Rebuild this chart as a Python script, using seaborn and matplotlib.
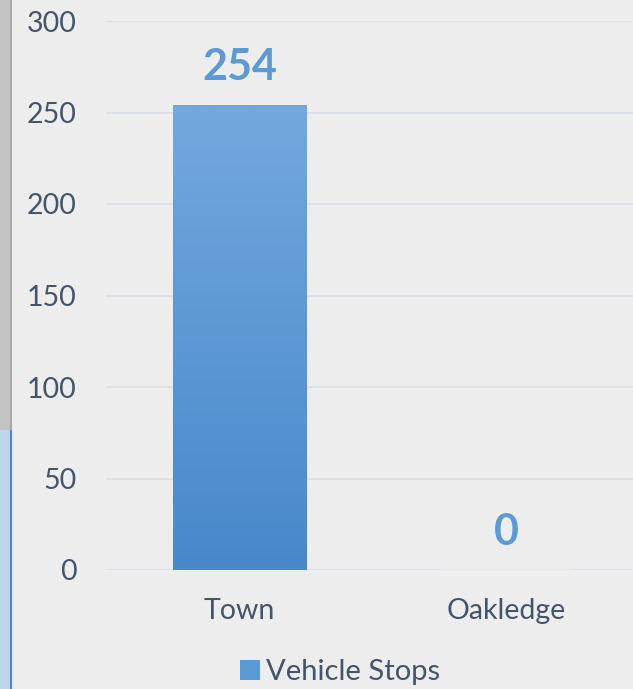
import numpy as np
import pandas as pd
import matplotlib
matplotlib.use("Agg")
import matplotlib.pyplot as plt
from matplotlib.patches import Rectangle
from matplotlib.colors import LinearSegmentedColormap
import seaborn as sns

categories = ["Town", "Oakledge"]
vehicle_stops = [254, 0]
y_ticks = [0, 50, 100, 150, 200, 250, 300]
series_name = "Vehicle Stops"

BG = "#ededed"
TEXT = "#44546a"
LABEL = "#5b9bd5"
GRID = "#dadee5"

sns.set_theme(style="white")
plt.rcParams["font.family"] = ["Lato", "DejaVu Sans"]

W, H = 633, 689
fig = plt.figure(figsize=(W / 100, H / 100), dpi=100, facecolor=BG)
ax = fig.add_axes([106 / W, 1 - 570 / H, (639.5 - 106) / W, (570 - 21) / H])
ax.set_facecolor(BG)

df = pd.DataFrame({"category": categories, "value": vehicle_stops})
sns.barplot(data=df, x="category", y="value", ax=ax, width=0.5,
            color="#5b9bd5", saturation=1, zorder=3)

ax.set_ylim(0, 300)
ax.set_yticks(y_ticks)
ax.set_xlim(-0.5, 1.5)
ax.grid(axis="y", color=GRID, linewidth=1.2, zorder=0)
ax.set_axisbelow(True)
for s in ax.spines.values():
    s.set_visible(False)
ax.tick_params(axis="y", length=0, pad=21, labelsize=20.5, labelcolor=TEXT)
ax.tick_params(axis="x", length=0, pad=20, labelsize=20.5, labelcolor=TEXT)
ax.set_xlabel("")
ax.set_ylabel("")

# vertical gradient fill on each bar
cmap = LinearSegmentedColormap.from_list("barfill", ["#4888ca", "#72a8de"])
grad = np.linspace(0, 1, 256).reshape(-1, 1)
for bar in ax.patches:
    h = bar.get_height()
    if h <= 0:
        continue
    x0 = bar.get_x()
    w = bar.get_width()
    bar.set_facecolor("none")
    bar.set_edgecolor("none")
    im = ax.imshow(grad, cmap=cmap, origin="lower", aspect="auto",
                   extent=[x0, x0 + w, 0, h], zorder=3)
    im.set_clip_path(bar)

# value labels
for i, v in enumerate(vehicle_stops):
    ax.annotate(f"{v}", xy=(i, v), xytext=(0, 13), textcoords="offset points",
                ha="center", va="bottom", fontsize=31, fontweight="bold",
                color=LABEL, zorder=5)

# legend
handle = Rectangle((0, 0), 1, 1, facecolor="#5b9bd5", edgecolor="none")
fig.legend([handle], [series_name], loc="center", bbox_to_anchor=(340 / W, 1 - 672 / H),
           frameon=False, fontsize=21, handlelength=0.7, handleheight=0.7,
           handletextpad=0.2, labelcolor=TEXT)

# window edge strip on the left
fig.patches.append(Rectangle((0, 1 - 430 / H), 10 / W, 430 / H, transform=fig.transFigure,
                             facecolor="#c3c3c3", edgecolor="none", zorder=10))
fig.patches.append(Rectangle((10 / W, 1 - 430 / H), 1.5 / W, 430 / H, transform=fig.transFigure,
                             facecolor="#a9a9a9", edgecolor="none", zorder=10))
fig.patches.append(Rectangle((0, 0), 10 / W, 1 - 430 / H, transform=fig.transFigure,
                             facecolor="#bdd6ee", edgecolor="none", zorder=10))
fig.patches.append(Rectangle((10 / W, 0), 2 / W, 1 - 430 / H, transform=fig.transFigure,
                             facecolor="#4a86c8", edgecolor="none", zorder=10))

fig.savefig("out.png", dpi=100, facecolor=BG)
